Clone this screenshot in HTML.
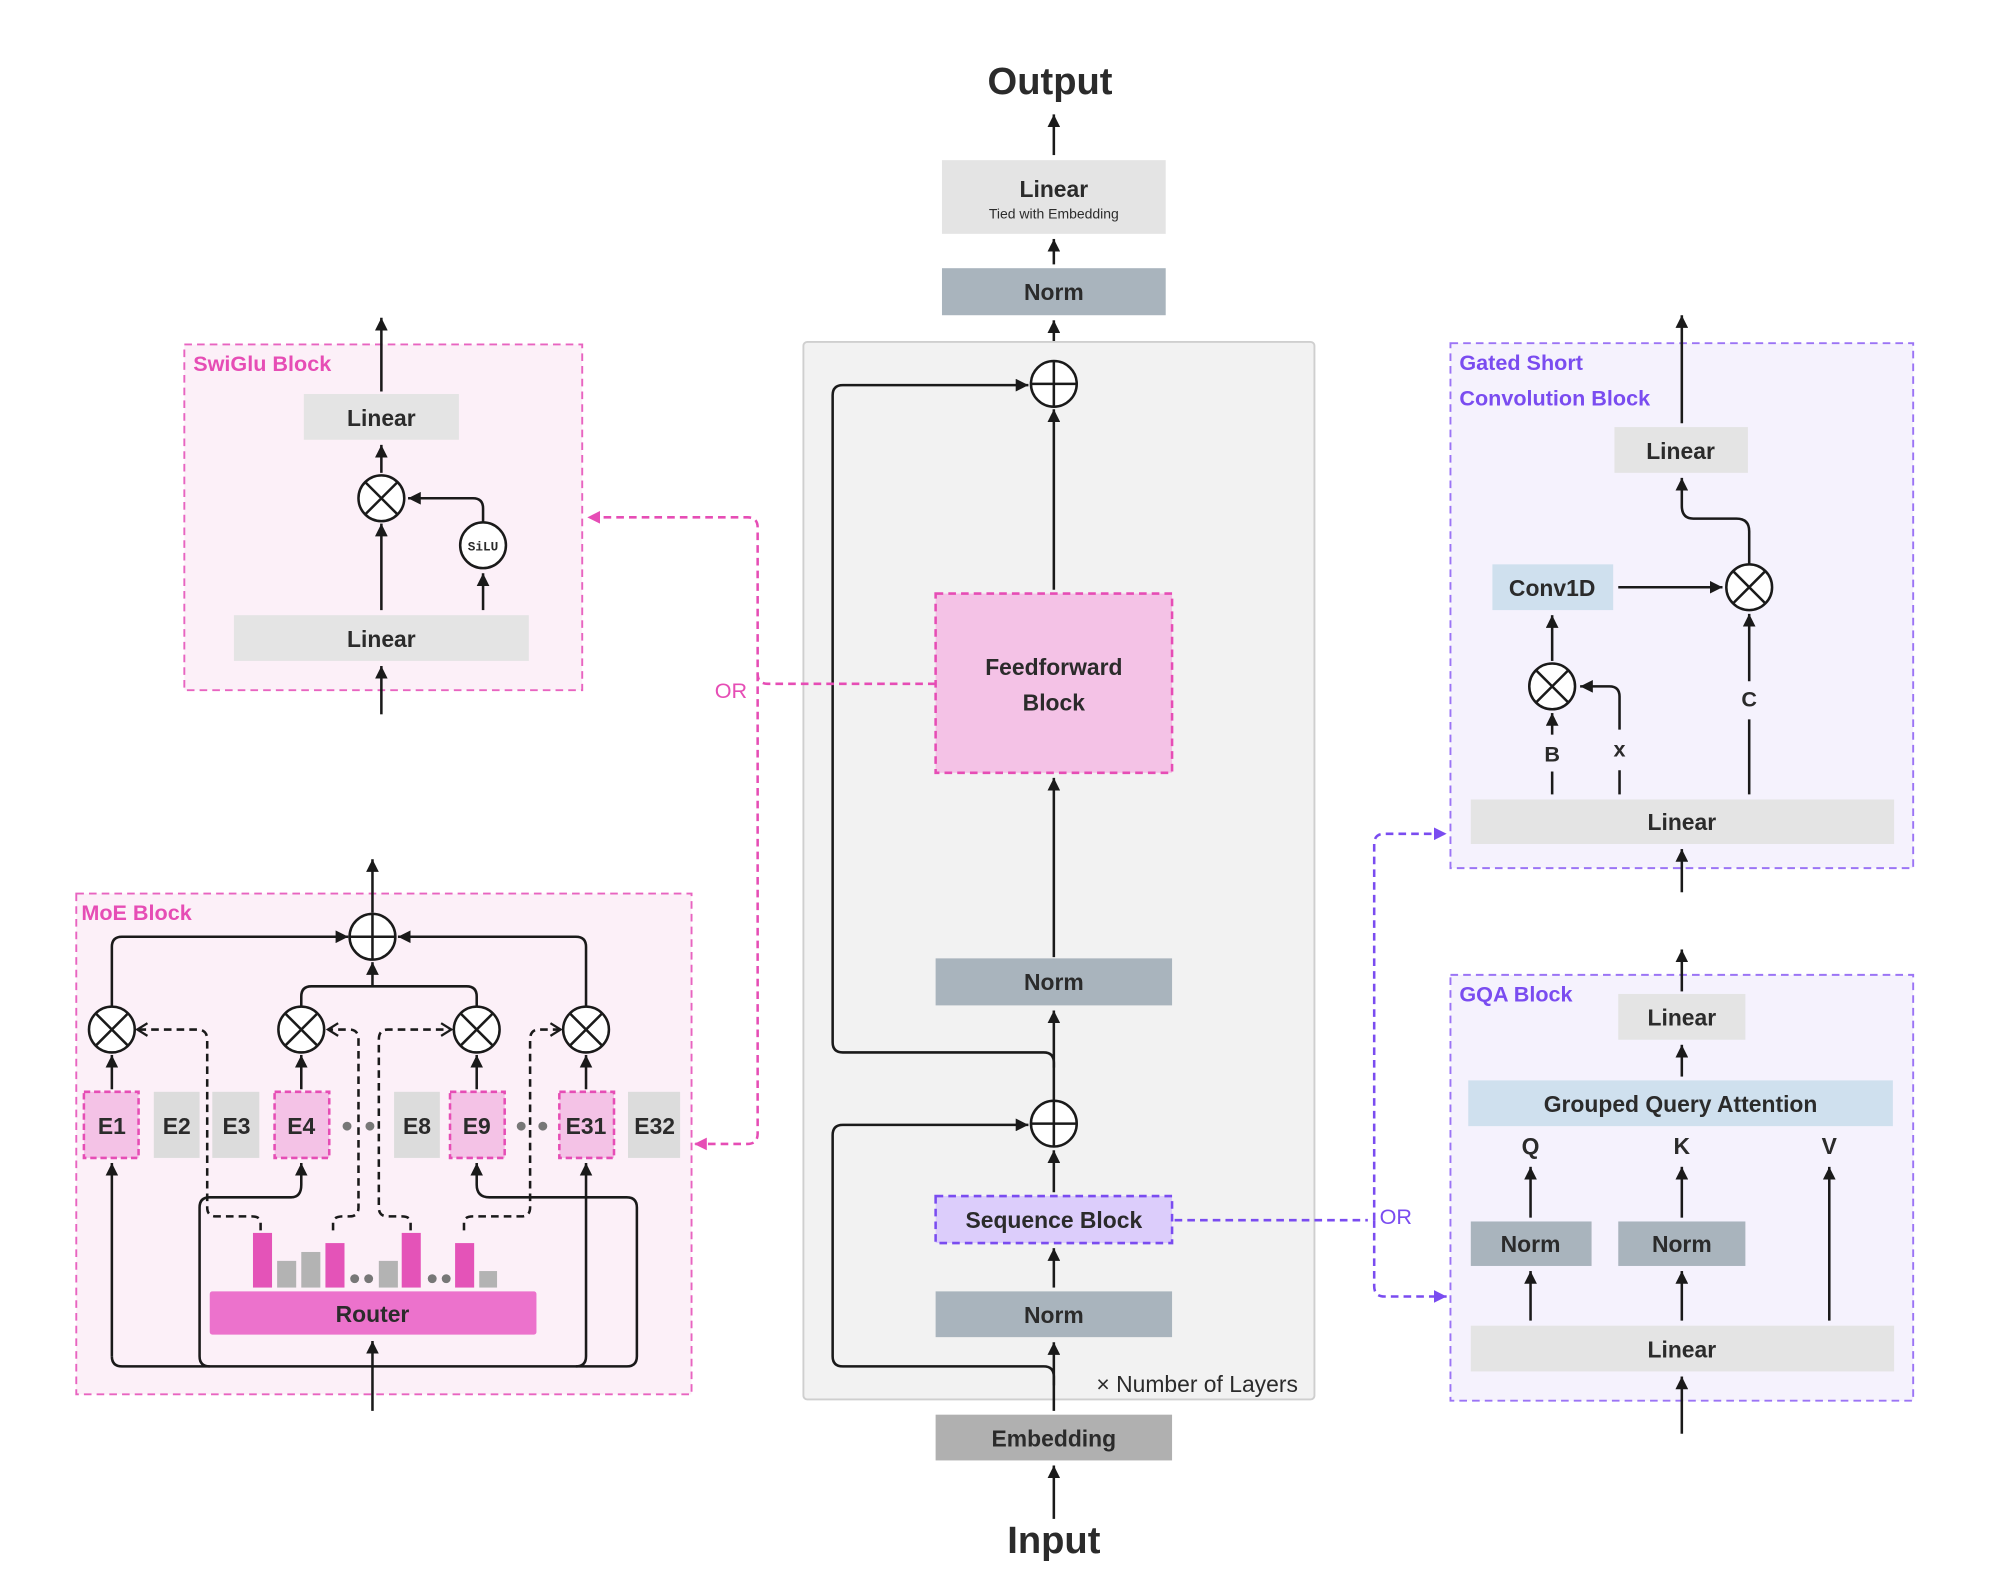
<!DOCTYPE html>
<html><head><meta charset="utf-8"><style>
html,body{margin:0;padding:0;background:#fff;}
svg{display:block;}
text{font-family:"Liberation Sans",sans-serif;}
.b{font-weight:bold;fill:#2b2b2b;font-size:18px;text-anchor:middle;}
.ln{stroke:#1a1a1a;stroke-width:2;fill:none;}
.dl{stroke:#1a1a1a;stroke-width:2;fill:none;stroke-dasharray:6 4;}
.pk{stroke:#e64db5;stroke-width:2;fill:none;stroke-dasharray:6 4;}
.pu{stroke:#7a4cf0;stroke-width:2;fill:none;stroke-dasharray:6 4;}
</style></head><body>
<svg width="1992" height="1578" viewBox="0 0 1567 1241.5" preserveAspectRatio="none" xmlns="http://www.w3.org/2000/svg">
<defs>
<marker id="a" markerUnits="userSpaceOnUse" markerWidth="12" markerHeight="10" refX="10" refY="5" orient="auto"><path d="M0,0 L10,5 L0,10 z" fill="#1a1a1a"/></marker>
<marker id="o" markerUnits="userSpaceOnUse" markerWidth="12" markerHeight="12" refX="10" refY="6" orient="auto"><path d="M2,1 L10,6 L2,11" fill="none" stroke="#1a1a1a" stroke-width="1.8"/></marker>
<marker id="p" markerUnits="userSpaceOnUse" markerWidth="12" markerHeight="10" refX="10" refY="5" orient="auto"><path d="M0,0 L10,5 L0,10 z" fill="#e64db5"/></marker>
<marker id="v" markerUnits="userSpaceOnUse" markerWidth="12" markerHeight="10" refX="10" refY="5" orient="auto"><path d="M0,0 L10,5 L0,10 z" fill="#7a4cf0"/></marker>
<g id="ot"><circle r="18" fill="#fff" stroke="#1a1a1a" stroke-width="2"/><path d="M-12.7,-12.7 L12.7,12.7 M12.7,-12.7 L-12.7,12.7" stroke="#1a1a1a" stroke-width="2"/></g>
<g id="op"><circle r="18" fill="#fff" stroke="#1a1a1a" stroke-width="2"/><path d="M-18,0 L18,0 M0,-18 L0,18" stroke="#1a1a1a" stroke-width="2"/></g>
</defs>

<!-- center -->
<text x="826" y="74" class="b" style="font-size:30px">Output</text>
<path class="ln" d="M829,122 V90" marker-end="url(#a)"/>
<rect x="741" y="126" width="176" height="58" fill="#e4e4e4"/>
<text x="829" y="155" class="b">Linear</text>
<text x="829" y="172" style="font-size:11px;text-anchor:middle;fill:#2b2b2b">Tied with Embedding</text>
<path class="ln" d="M829,208 V188" marker-end="url(#a)"/>
<rect x="741" y="211" width="176" height="37" fill="#a9b4bd"/>
<text x="829" y="236" class="b">Norm</text>
<path class="ln" d="M829,284 V252" marker-end="url(#a)"/>
<rect x="632" y="269" width="402" height="832" rx="3" fill="#f2f2f2" stroke="#cfcfcf" stroke-width="1.5"/>
<path class="ln" d="M829,840 V836 Q829,828 821,828 H663 Q655,828 655,820 V311 Q655,303 663,303 H809" marker-end="url(#a)"/>
<use href="#op" x="829" y="302"/>
<path class="ln" d="M829,464 V322" marker-end="url(#a)"/>
<rect x="736" y="467" width="186" height="141" fill="#f4c2e6" stroke="#e64db5" stroke-width="2" stroke-dasharray="6 4"/>
<text x="829" y="531" class="b">Feedforward</text>
<text x="829" y="559" class="b">Block</text>
<path class="ln" d="M829,753 V612" marker-end="url(#a)"/>
<rect x="736" y="754" width="186" height="37" fill="#a9b4bd"/>
<text x="829" y="779" class="b">Norm</text>
<path class="ln" d="M829,866 V795" marker-end="url(#a)"/>
<path class="ln" d="M829,1090 V1083 Q829,1075 821,1075 H663 Q655,1075 655,1067 V893 Q655,885 663,885 H809" marker-end="url(#a)"/>
<use href="#op" x="829" y="884"/>
<path class="ln" d="M829,938 V905" marker-end="url(#a)"/>
<rect x="736" y="941" width="186" height="37" fill="#dccdfb" stroke="#7a4cf0" stroke-width="2" stroke-dasharray="6 4"/>
<text x="829" y="966" class="b">Sequence Block</text>
<path class="ln" d="M829,1013 V982" marker-end="url(#a)"/>
<rect x="736" y="1016" width="186" height="36" fill="#a9b4bd"/>
<text x="829" y="1041" class="b">Norm</text>
<path class="ln" d="M829,1110 V1056" marker-end="url(#a)"/>
<text x="1021" y="1095" style="font-size:18px;text-anchor:end;fill:#2b2b2b">× Number of Layers</text>
<rect x="736" y="1113" width="186" height="36" fill="#b0b0b0"/>
<text x="829" y="1138" class="b">Embedding</text>
<path class="ln" d="M829,1195 V1153" marker-end="url(#a)"/>
<text x="829" y="1222" class="b" style="font-size:30px">Input</text>

<!-- SwiGlu -->
<rect x="145" y="271" width="313" height="272" fill="#fcf0f8" stroke="#e864c0" stroke-width="1.5" stroke-dasharray="6 4"/>
<text x="152" y="292" style="font-size:17px;font-weight:bold;fill:#e64db5">SwiGlu Block</text>
<path class="ln" d="M300,308 V250" marker-end="url(#a)"/>
<rect x="239" y="310" width="122" height="36" fill="#e4e4e4"/>
<text x="300" y="335" class="b">Linear</text>
<path class="ln" d="M300,372 V350" marker-end="url(#a)"/>
<use href="#ot" x="300" y="392"/>
<path class="ln" d="M300,480 V412" marker-end="url(#a)"/>
<path class="ln" d="M380,411 V400 Q380,392 372,392 H321" marker-end="url(#a)"/>
<circle cx="380" cy="429" r="18" fill="#fff" stroke="#1a1a1a" stroke-width="2"/>
<text x="380" y="433" style="font-family:'Liberation Mono',monospace;font-size:10px;font-weight:bold;text-anchor:middle;fill:#2b2b2b">SiLU</text>
<path class="ln" d="M380,480 V451" marker-end="url(#a)"/>
<rect x="184" y="484" width="232" height="36" fill="#e4e4e4"/>
<text x="300" y="509" class="b">Linear</text>
<path class="ln" d="M300,562 V524" marker-end="url(#a)"/>

<!-- pink OR -->
<path class="pk" d="M736,538 H604 Q596,538 596,530 V415 Q596,407 588,407 H462" marker-end="url(#p)"/>
<path class="pk" d="M596,530 V892 Q596,900 588,900 H546" marker-end="url(#p)"/>
<rect x="560" y="530" width="30" height="22" fill="#fff"/>
<text x="575" y="549" style="font-size:17px;fill:#e64db5;text-anchor:middle">OR</text>

<!-- MoE -->
<rect x="60" y="703" width="484" height="394" fill="#fcf0f8" stroke="#e864c0" stroke-width="1.5" stroke-dasharray="6 4"/>
<text x="64" y="724" style="font-size:17px;font-weight:bold;fill:#e64db5">MoE Block</text>
<path class="ln" d="M293,718 V676" marker-end="url(#a)"/>
<use href="#op" x="293" y="737"/>
<path class="ln" d="M88,792 V745 Q88,737 96,737 H274" marker-end="url(#a)"/>
<path class="ln" d="M461,792 V745 Q461,737 453,737 H313" marker-end="url(#a)"/>
<path class="ln" d="M237,792 V784 Q237,776 245,776 H367 Q375,776 375,784 V792"/>
<path class="ln" d="M293,776 V757" marker-end="url(#a)"/>
<g class="b">
<rect x="66" y="859" width="43" height="52" fill="#f4c2e6" stroke="#e64db5" stroke-width="2" stroke-dasharray="5 3"/>
<rect x="121" y="859" width="36" height="52" fill="#dcdcdc"/>
<rect x="167" y="859" width="37" height="52" fill="#dcdcdc"/>
<rect x="216" y="859" width="43" height="52" fill="#f4c2e6" stroke="#e64db5" stroke-width="2" stroke-dasharray="5 3"/>
<rect x="310" y="859" width="36" height="52" fill="#dcdcdc"/>
<rect x="354" y="859" width="43" height="52" fill="#f4c2e6" stroke="#e64db5" stroke-width="2" stroke-dasharray="5 3"/>
<rect x="440" y="859" width="43" height="52" fill="#f4c2e6" stroke="#e64db5" stroke-width="2" stroke-dasharray="5 3"/>
<rect x="494" y="859" width="41" height="52" fill="#dcdcdc"/>
</g>
<text x="88" y="892" class="b">E1</text><text x="139" y="892" class="b">E2</text><text x="186" y="892" class="b">E3</text><text x="237" y="892" class="b">E4</text><text x="328" y="892" class="b">E8</text><text x="375" y="892" class="b">E9</text><text x="461" y="892" class="b">E31</text><text x="515" y="892" class="b">E32</text>
<g fill="#777"><circle cx="273" cy="886" r="3.5"/><circle cx="291" cy="886" r="3.5"/><circle cx="410" cy="886" r="3.5"/><circle cx="427" cy="886" r="3.5"/></g>
<path class="ln" d="M88,857 V830" marker-end="url(#a)"/>
<path class="ln" d="M237,857 V830" marker-end="url(#a)"/>
<path class="ln" d="M375,857 V830" marker-end="url(#a)"/>
<path class="ln" d="M461,857 V830" marker-end="url(#a)"/>
<path class="dl" d="M205,968 V962 Q205,957 198,957 H170 Q163,957 163,950 V818 Q163,810 155,810 H108" marker-end="url(#o)"/>
<path class="dl" d="M262,968 V962 Q262,957 270,957 H275 Q282,957 282,950 V818 Q282,810 275,810 H258" marker-end="url(#o)"/>
<path class="dl" d="M323,968 V962 Q323,957 316,957 H305 Q298,957 298,950 V818 Q298,810 305,810 H355" marker-end="url(#o)"/>
<path class="dl" d="M365,968 V962 Q365,957 372,957 H410 Q417,957 417,950 V818 Q417,810 424,810 H441" marker-end="url(#o)"/>
<use href="#ot" x="88" y="810"/><use href="#ot" x="237" y="810"/><use href="#ot" x="375" y="810"/><use href="#ot" x="461" y="810"/>
<g fill="#e453b8"><rect x="199" y="970" width="15" height="43"/><rect x="256" y="978" width="15" height="35"/><rect x="316" y="970" width="15" height="43"/><rect x="358" y="978" width="15" height="35"/></g>
<g fill="#b3b3b3"><rect x="218" y="992" width="15" height="21"/><rect x="237" y="985" width="15" height="28"/><rect x="298" y="992" width="15" height="21"/><rect x="377" y="1000" width="14" height="13"/></g>
<g fill="#777"><circle cx="279" cy="1006" r="3.5"/><circle cx="290" cy="1006" r="3.5"/><circle cx="340" cy="1006" r="3.5"/><circle cx="351" cy="1006" r="3.5"/></g>
<rect x="165" y="1016" width="257" height="34" rx="2" fill="#ec72cc"/>
<text x="293" y="1040" class="b">Router</text>
<path class="ln" d="M293,1110 V1055" marker-end="url(#a)"/>
<path class="ln" d="M88,1067 V915" marker-end="url(#a)"/>
<path class="ln" d="M88,1067 Q88,1075 96,1075 H493 Q501,1075 501,1067 V950 Q501,942 493,942 H385 Q375,942 375,932 V915" marker-end="url(#a)"/>
<path class="ln" d="M165,1075 Q157,1075 157,1067 V950 Q157,942 165,942 H229 Q237,942 237,932 V915" marker-end="url(#a)"/>
<path class="ln" d="M453,1075 Q461,1075 461,1067 V915" marker-end="url(#a)"/>

<!-- Gated Short Conv -->
<rect x="1141" y="270" width="364" height="413" fill="#f5f2fd" stroke="#9b74f5" stroke-width="1.5" stroke-dasharray="6 4"/>
<text x="1148" y="291" style="font-size:17px;font-weight:bold;fill:#7a4cf0">Gated Short</text>
<text x="1148" y="319" style="font-size:17px;font-weight:bold;fill:#7a4cf0">Convolution Block</text>
<path class="ln" d="M1323,333 V248" marker-end="url(#a)"/>
<rect x="1270" y="336" width="105" height="36" fill="#e4e4e4"/>
<text x="1322" y="361" class="b">Linear</text>
<path class="ln" d="M1376,444 V418 Q1376,408 1366,408 H1332 Q1323,408 1323,398 V376" marker-end="url(#a)"/>
<rect x="1174" y="444" width="95" height="36" fill="#cfe0ee"/>
<text x="1221" y="469" class="b">Conv1D</text>
<path class="ln" d="M1273,462 H1355" marker-end="url(#a)"/>
<use href="#ot" x="1376" y="462"/>
<path class="ln" d="M1221,520 V484" marker-end="url(#a)"/>
<use href="#ot" x="1221" y="540"/>
<path class="ln" d="M1221,625 V607"/>
<path class="ln" d="M1221,578 V561" marker-end="url(#a)"/>
<text x="1221" y="599" class="b" style="font-size:17px">B</text>
<path class="ln" d="M1274,625 V606"/>
<path class="ln" d="M1274,574 V548 Q1274,540 1266,540 H1243" marker-end="url(#a)"/>
<text x="1274" y="595" class="b" style="font-size:17px">x</text>
<path class="ln" d="M1376,625 V566"/>
<path class="ln" d="M1376,536 V483" marker-end="url(#a)"/>
<text x="1376" y="556" class="b" style="font-size:17px">C</text>
<rect x="1157" y="629" width="333" height="35" fill="#e4e4e4"/>
<text x="1323" y="653" class="b">Linear</text>
<path class="ln" d="M1323,702 V668" marker-end="url(#a)"/>

<!-- GQA -->
<rect x="1141" y="767" width="364" height="335" fill="#f5f2fd" stroke="#9b74f5" stroke-width="1.5" stroke-dasharray="6 4"/>
<text x="1148" y="788" style="font-size:17px;font-weight:bold;fill:#7a4cf0">GQA Block</text>
<path class="ln" d="M1323,780 V747" marker-end="url(#a)"/>
<rect x="1273" y="782" width="100" height="36" fill="#e4e4e4"/>
<text x="1323" y="807" class="b">Linear</text>
<path class="ln" d="M1323,847 V822" marker-end="url(#a)"/>
<rect x="1155" y="850" width="334" height="36" fill="#cfe0ee"/>
<text x="1322" y="875" class="b">Grouped Query Attention</text>
<text x="1204" y="908" class="b">Q</text><text x="1323" y="908" class="b">K</text><text x="1439" y="908" class="b">V</text>
<path class="ln" d="M1204,958 V918" marker-end="url(#a)"/>
<path class="ln" d="M1323,958 V918" marker-end="url(#a)"/>
<path class="ln" d="M1439,1039 V918" marker-end="url(#a)"/>
<rect x="1157" y="961" width="95" height="35" fill="#a9b4bd"/>
<text x="1204" y="985" class="b">Norm</text>
<rect x="1273" y="961" width="100" height="35" fill="#a9b4bd"/>
<text x="1323" y="985" class="b">Norm</text>
<path class="ln" d="M1204,1039 V1000" marker-end="url(#a)"/>
<path class="ln" d="M1323,1039 V1000" marker-end="url(#a)"/>
<rect x="1157" y="1043" width="333" height="36" fill="#e4e4e4"/>
<text x="1323" y="1068" class="b">Linear</text>
<path class="ln" d="M1323,1128 V1083" marker-end="url(#a)"/>

<!-- purple OR -->
<path class="pu" d="M924,960 H1076"/>
<path class="pu" d="M1081,960 V664 Q1081,656 1089,656 H1138" marker-end="url(#v)"/>
<path class="pu" d="M1081,960 V1012 Q1081,1020 1089,1020 H1138" marker-end="url(#v)"/>
<rect x="1084" y="945" width="30" height="22" fill="#fff"/>
<text x="1098" y="963" style="font-size:17px;fill:#7a4cf0;text-anchor:middle">OR</text>
</svg>
</body></html>
